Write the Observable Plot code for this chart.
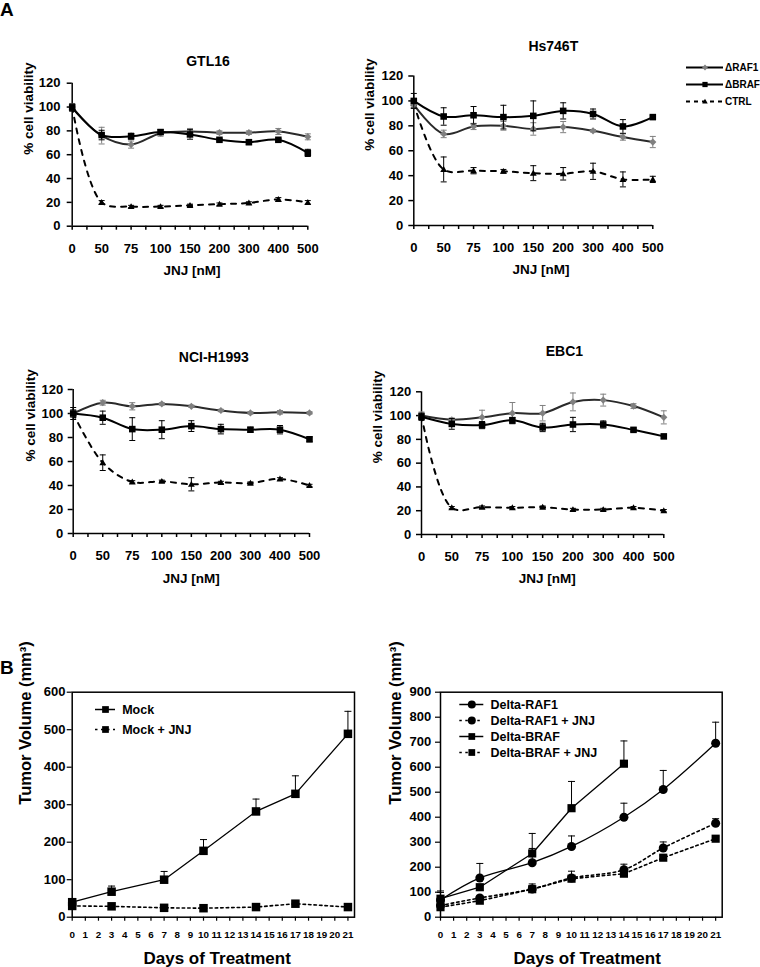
<!DOCTYPE html>
<html><head><meta charset="utf-8">
<script src="https://cdn.jsdelivr.net/npm/d3@7"></script>
<script src="https://cdn.jsdelivr.net/npm/@observablehq/plot@0.6"></script>
<style>
body{margin:0;background:#fff;}
#fig{position:relative;width:760px;height:967px;overflow:hidden;font-family:"Liberation Sans",Arial,sans-serif;font-weight:bold;}
#fig > *{position:absolute;}
.plbl{font-size:19px;line-height:19px;color:#000;}
</style></head><body><div id="fig"></div>
<script>
// ---------- Panel A data ----------
const doses = ["0","50","75","100","150","200","300","400","500"];
const seriesA = ["ΔRAF1","ΔBRAF","CTRL"];

const gtl16Raf1    = [100, 76, 68.5, 78, 79.5, 78.5, 78.5, 79.5, 75];
const gtl16Raf1Err = [3, 7, 3, 2.5, 2.5, 1.5, 1.5, 2.5, 2.5];
const gtl16Braf    = [99.5, 76.5, 75.5, 79, 77, 72.5, 70.5, 72.5, 61.5];
const gtl16BrafErr = [3, 4, 2.5, 2, 4, 1, 2, 1, 3];
const gtl16Ctrl    = [100, 20, 16.5, 16.5, 17.5, 18.5, 19.5, 22.5, 20];
const gtl16CtrlErr = [2, 1.5, 1, 1, 1, 1, 1, 1.5, 1.5];

const hsRaf1    = [97, 73.5, 79.5, 80, 77.5, 79, 76, 71, 67];
const hsRaf1Err = [3, 3, 2.5, 3.5, 5, 4.5, 1, 2.5, 4.5];
const hsBraf    = [100, 87.5, 88.5, 87, 88, 92, 89.5, 79.5, 87];
const hsBrafErr = [6, 7, 7, 9.5, 12, 6.5, 4, 5.5, 1];
const hsCtrl    = [98, 45, 44, 43.5, 42, 41.5, 43.5, 37, 37];
const hsCtrlErr = [3, 10, 2.5, 1.5, 6, 5, 6.5, 6, 2.5];

const nciRaf1    = [100, 109, 106, 108, 106, 102.5, 100.5, 101, 100.5];
const nciRaf1Err = [2, 2, 3, 1, 1, 1, 1, 1.5, 1];
const nciBraf    = [100, 96.5, 87, 86.5, 89.5, 87, 86.5, 86.5, 78.5];
const nciBrafErr = [5, 5.5, 9.5, 7.5, 4.5, 4, 2, 3.5, 2];
const nciCtrl    = [100, 59, 43, 43.5, 41, 42.5, 42, 45.5, 40];
const nciCtrlErr = [3, 6.5, 1, 1, 5.5, 1, 1, 1, 1];

const ebcRaf1    = [100, 96.5, 98.5, 102, 102, 111.5, 113, 108, 98.5];
const ebcRaf1Err = [3, 1.5, 6, 9, 6.5, 7.5, 5, 2, 5.5];
const ebcBraf    = [99, 93, 92, 96, 90, 92.5, 92.5, 88, 82.5];
const ebcBrafErr = [3, 4.5, 3, 2.5, 3.5, 6, 3, 1.5, 1.5];
const ebcCtrl    = [100, 22.5, 23, 22.5, 23, 21, 21, 22.5, 20];
const ebcCtrlErr = [2, 1, 1, 1, 1, 1, 1, 1, 1];

// ---------- Panel B data ----------
const days = [0, 3, 7, 10, 14, 17, 21];
const brafDays = [0, 3, 7, 10, 14];
const mock       = [40, 68, 100, 177, 282, 329, 489];
const mockErr    = [6, 15, 22, 30, 33, 48, 60];
const mockJnj    = [30, 29, 25, 24, 27, 36, 27];
const mockJnjErr = [3, 3, 2, 2, 3, 4, 3];

const dRaf1       = [69, 157, 218, 283, 400, 511, 696];
const dRaf1Err    = [36, 58, 57, 42, 56, 76, 84];
const dRaf1Jnj    = [47, 77, 113, 157, 190, 277, 376];
const dRaf1JnjErr = [10, 8, 20, 27, 22, 24, 18];
const dBraf       = [74, 120, 255, 436, 614];
const dBrafErr    = [25, 10, 80, 107, 91];
const dBrafJnj    = [40, 66, 112, 154, 174, 238, 314];
const dBrafJnjErr = [8, 6, 10, 10, 10, 8, 8];

// ---------- helpers ----------
const FONT = '"Liberation Sans", Arial, sans-serif';
const fig = document.getElementById("fig");
function place(el, left, top) { el.style.left = left + "px"; el.style.top = top + "px"; fig.append(el); }

const capSym = {draw(ctx, size){ const r = Math.sqrt(size / Math.PI); ctx.moveTo(-r, 0); ctx.lineTo(r, 0); }};
const diamondSym = {draw(ctx, size){ const r = Math.sqrt(size / Math.PI); ctx.moveTo(0, -r); ctx.lineTo(r, 0); ctx.lineTo(0, r); ctx.lineTo(-r, 0); ctx.closePath(); }};
const triSym = {draw(ctx, size){ const r = Math.sqrt(size / Math.PI); ctx.moveTo(0, -r); ctx.lineTo(r, r * 0.75); ctx.lineTo(-r, r * 0.75); ctx.closePath(); }};

const styleA = {
  "ΔRAF1": {line: "#2a2a2a", mark: "#808080", symbol: diamondSym, r: 3.6, dash: null},
  "ΔBRAF": {line: "#000", mark: "#000", symbol: "square", r: 3.7, dash: null},
  "CTRL":  {line: "#000", mark: "#000", symbol: triSym, r: 3.4, dash: "5,6"}
};

function rowsOf(vals, errs, xs) { return vals.map((v, i) => ({x: xs ? xs[i] : i, v, e: errs[i]})); }

function marksA(rows, st) {
  return [
    Plot.ruleX(rows, {x: "x", y1: d => d.v - d.e, y2: d => d.v + d.e, stroke: st.mark, strokeWidth: 1}),
    Plot.dot(rows, {x: "x", y: d => d.v + d.e, symbol: capSym, r: 3, stroke: st.mark, fill: "none", strokeWidth: 1}),
    Plot.dot(rows, {x: "x", y: d => d.v - d.e, symbol: capSym, r: 3, stroke: st.mark, fill: "none", strokeWidth: 1}),
    Plot.line(rows, {x: "x", y: "v", curve: "catmull-rom", stroke: st.line, strokeWidth: 2, strokeDasharray: st.dash}),
    Plot.dot(rows, {x: "x", y: "v", symbol: st.symbol, r: st.r, fill: st.mark, stroke: "none"})
  ];
}

function cellPlot(c) {
  return Plot.plot({
    width: c.w, height: c.h,
    marginLeft: c.mL, marginRight: c.mR, marginTop: c.mT, marginBottom: c.mB,
    style: {fontFamily: FONT, fontWeight: "bold", background: "transparent", overflow: "visible", color: "#000"},
    x: {domain: [0, doses.length - 1]},
    y: {domain: [0, 120]},
    marks: [
      Plot.axisX(d3.range(0.5, doses.length - 1, 1), {tickFormat: () => "", tickSize: 4, strokeWidth: 1.5, label: null}),
      Plot.axisX(d3.range(doses.length), {tickFormat: i => doses[i], tickSize: 4, tickPadding: 13.5, fontSize: 13, strokeWidth: 1.5, label: null}),
      Plot.axisY(d3.range(0, 121, 20), {tickSize: 5, tickPadding: c.yPad, fontSize: 13, strokeWidth: 1.5, label: null}),
      Plot.ruleY([0], {strokeWidth: 1.5}),
      Plot.ruleX([0], {strokeWidth: 1.5}),
      ...marksA(rowsOf(c.ctrl, c.ctrlErr), styleA["CTRL"]),
      ...marksA(rowsOf(c.raf1, c.raf1Err), styleA["ΔRAF1"]),
      ...marksA(rowsOf(c.braf, c.brafErr), styleA["ΔBRAF"]),
      Plot.text([c.title], {frameAnchor: "top", lineAnchor: "middle", dx: c.tDx, dy: c.tDy, fontSize: 14, fontWeight: "bold"}),
      Plot.text(["JNJ [nM]"], {frameAnchor: "bottom", lineAnchor: "middle", dx: c.xDx, dy: c.xDy, fontSize: 13.5, fontWeight: "bold"}),
      Plot.text(["% cell viability"], {frameAnchor: "left", lineAnchor: "middle", dx: c.yDx, rotate: -90, fontSize: 13.5, fontWeight: "bold"})
    ]
  });
}

function marksB(rows, st) {
  return [
    Plot.ruleX(rows, {x: "x", y1: "v", y2: d => d.v + d.e, stroke: "#000", strokeWidth: 1}),
    Plot.dot(rows, {x: "x", y: d => d.v + d.e, symbol: capSym, r: 3.5, stroke: "#000", fill: "none", strokeWidth: 1}),
    Plot.line(rows, {x: "x", y: "v", curve: st.curve, stroke: "#000", strokeWidth: st.dash ? 1.6 : 1.3, strokeDasharray: st.dash}),
    Plot.dot(rows, {x: "x", y: "v", symbol: st.symbol, r: st.r, fill: "#000", stroke: "none"})
  ];
}

function tumorPlot(c) {
  return Plot.plot({
    width: c.w, height: c.h,
    marginLeft: c.mL, marginRight: c.mR, marginTop: c.mT, marginBottom: c.mB,
    style: {fontFamily: FONT, fontWeight: "bold", background: "transparent", overflow: "visible", color: "#000"},
    x: {domain: [0, 21.5]},
    y: {domain: [0, c.yMax]},
    marks: [
      Plot.axisX(d3.range(0, 22), {tickSize: 4, tickPadding: 9.5, fontSize: 9.8, strokeWidth: 1.2, label: null}),
      Plot.axisY(d3.range(0, c.yMax + 1, 100), {tickSize: 5, tickPadding: c.yPad, fontSize: 13, strokeWidth: 1.2, label: null}),
      ...c.series.flatMap(s => marksB(s.rows, s)),
      Plot.frame({stroke: "#000", strokeWidth: 1.5}),
      Plot.text(["Days of Treatment"], {frameAnchor: "bottom", lineAnchor: "middle", dx: c.xDx, dy: 41.6, fontSize: 17, fontWeight: "bold"}),
      Plot.text(["Tumor Volume (mm³)"], {frameAnchor: "left", lineAnchor: "middle", dx: c.yDx, rotate: -90, fontSize: 16.5, fontWeight: "bold"})
    ]
  });
}

function legendPlot(c) {
  const names = c.items.map(d => d.name);
  return Plot.plot({
    width: c.w, height: c.h, margin: 0,
    style: {fontFamily: FONT, fontWeight: "bold", background: "transparent", overflow: "visible", color: "#000"},
    x: {domain: [0, 1], range: c.xRange, axis: null},
    y: {type: "point", domain: names, range: c.yRange, padding: 0, axis: null},
    marks: [
      ...c.items.flatMap(it => [
        Plot.ruleY([it], {y: "name", x1: () => 0, x2: () => 1, stroke: "#000", strokeWidth: c.lw, strokeDasharray: it.dash}),
        Plot.dot([it], {x: () => 0.5, y: "name", symbol: it.symbol, r: it.r, fill: it.mark, stroke: "none"})
      ]),
      Plot.text(c.items, {x: () => 1, y: "name", text: "name", dx: c.gap, textAnchor: "start", fontSize: c.fs, fontWeight: "bold"})
    ]
  });
}

// ---------- Panel labels ----------
const lblA = document.createElement("div"); lblA.className = "plbl"; lblA.textContent = "A"; place(lblA, 0, 0);
const lblB = document.createElement("div"); lblB.className = "plbl"; lblB.textContent = "B"; place(lblB, 0, 657.5);

// ---------- Panel A ----------
place(cellPlot({title: "GTL16", raf1: gtl16Raf1, raf1Err: gtl16Raf1Err, braf: gtl16Braf, brafErr: gtl16BrafErr, ctrl: gtl16Ctrl, ctrlErr: gtl16CtrlErr,
  w: 370, h: 260, mL: 71.7, mR: 62.7, mT: 52.7, mB: 64.3, yPad: 6.7, tDx: 18, tDy: -21.7, xDx: 2, xDy: 44.3, yDx: -43.7}), 0, 30);

place(cellPlot({title: "Hs746T", raf1: hsRaf1, raf1Err: hsRaf1Err, braf: hsBraf, brafErr: hsBrafErr, ctrl: hsCtrl, ctrlErr: hsCtrlErr,
  w: 410, h: 260, mL: 63.3, mR: 107.7, mT: 45.5, mB: 65, yPad: 5.6, tDx: 20, tDy: -29.8, xDx: 7.7, xDy: 44.3, yDx: -44}), 350, 30);

place(cellPlot({title: "NCI-H1993", raf1: nciRaf1, raf1Err: nciRaf1Err, braf: nciBraf, brafErr: nciBrafErr, ctrl: nciCtrl, ctrlErr: nciCtrlErr,
  w: 370, h: 270, mL: 72.7, mR: 61, mT: 59, mB: 67, yPad: 5, tDx: 22.5, tDy: -32.3, xDx: 0, xDy: 45, yDx: -42.7}), 0, 330);

place(cellPlot({title: "EBC1", raf1: ebcRaf1, raf1Err: ebcRaf1Err, braf: ebcBraf, brafErr: ebcBrafErr, ctrl: ebcCtrl, ctrlErr: ebcCtrlErr,
  w: 410, h: 270, mL: 71, mR: 96.7, mT: 61.3, mB: 66, yPad: 5.3, tDx: 21.7, tDy: -40.6, xDx: 4.5, xDy: 44, yDx: -44.3}), 350, 330);

place(legendPlot({items: seriesA.map(n => ({name: n, ...styleA[n], r: styleA[n].r * 0.8, dash: styleA[n].dash ? "4,4" : null})),
  w: 80, h: 55, xRange: [6, 43], yRange: [11.7, 46], lw: 2, gap: 1.5, fs: 10}), 680, 55);

// ---------- Panel B ----------
place(tumorPlot({
  w: 370, h: 327, mL: 71.7, mR: 16, mT: 51.7, mB: 50.3, yMax: 600, yPad: 1.7, xDx: 3.8, yDx: -46.7,
  series: [
    {rows: rowsOf(mockJnj, mockJnjErr, days), symbol: "square", r: 4.8, dash: "2.5,3", curve: "linear"},
    {rows: rowsOf(mock, mockErr, days), symbol: "square", r: 4.8, dash: null, curve: "linear"}
  ]}), 0, 640);

place(tumorPlot({
  w: 390, h: 327, mL: 70, mR: 38.3, mT: 51.7, mB: 50.3, yMax: 900, yPad: 4.3, xDx: 5.8, yDx: -45,
  series: [
    {rows: rowsOf(dBrafJnj, dBrafJnjErr, days), symbol: "square", r: 4.6, dash: "2.5,3", curve: "linear"},
    {rows: rowsOf(dRaf1Jnj, dRaf1JnjErr, days), symbol: "circle", r: 4.5, dash: "2.5,3", curve: "catmull-rom"},
    {rows: rowsOf(dBraf, dBrafErr, brafDays), symbol: "square", r: 4.6, dash: null, curve: "linear"},
    {rows: rowsOf(dRaf1, dRaf1Err, days), symbol: "circle", r: 4.5, dash: null, curve: "catmull-rom"}
  ]}), 370, 640);

place(legendPlot({items: [
    {name: "Mock", symbol: "square", r: 3.8, mark: "#000", dash: null},
    {name: "Mock + JNJ", symbol: "square", r: 3.8, mark: "#000", dash: "2.5,3.5"}
  ], w: 150, h: 45, xRange: [15, 35], yRange: [13.3, 34.3], lw: 1.5, gap: 6.7, fs: 12.5}), 80, 695);

place(legendPlot({items: [
    {name: "Delta-RAF1", symbol: "circle", r: 4, mark: "#000", dash: null},
    {name: "Delta-RAF1 + JNJ", symbol: "circle", r: 4, mark: "#000", dash: "2.5,3.5"},
    {name: "Delta-BRAF", symbol: "square", r: 3.8, mark: "#000", dash: null},
    {name: "Delta-BRAF + JNJ", symbol: "square", r: 3.8, mark: "#000", dash: "2.5,3.5"}
  ], w: 200, h: 75, xRange: [9.3, 33.3], yRange: [13.5, 63], lw: 1.5, gap: 6.7, fs: 12.5}), 450, 690);
</script></body></html>
